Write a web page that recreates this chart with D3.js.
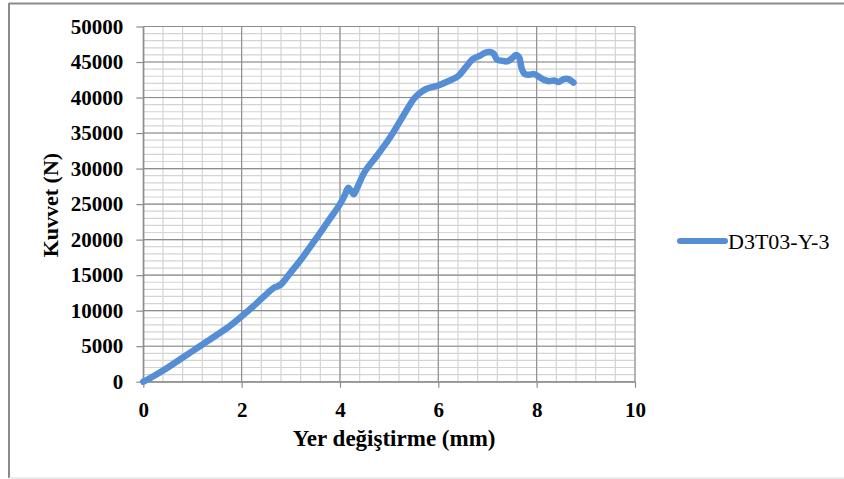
<!DOCTYPE html>
<html>
<head>
<meta charset="utf-8">
<script src="https://cdn.jsdelivr.net/npm/d3@7"></script>
<style>
  body { margin: 0; background: #fff; }
  svg { display: block; font-family: "Liberation Serif", "Times New Roman", serif; }
</style>
</head>
<body>
<svg></svg>
<script>
// force vs displacement, single specimen
var seriesName = 'D3T03-Y-3';
var displacement = [0, 0.25, 0.5, 0.75, 1.0, 1.25, 1.5, 1.75, 2.0, 2.25, 2.5, 2.65, 2.72, 2.8, 3.0,
  3.25, 3.5, 3.75, 4.0, 4.1, 4.17, 4.22, 4.28, 4.35, 4.5, 4.75, 5.0, 5.25, 5.5, 5.6, 5.75,
  6.0, 6.2, 6.4, 6.55, 6.7, 6.85, 6.95, 7.05, 7.12, 7.2, 7.28, 7.4, 7.5, 7.58, 7.64, 7.7,
  7.76, 7.85, 7.95, 8.05, 8.15, 8.25, 8.35, 8.45, 8.55, 8.65, 8.75];
var force = [0, 950, 2000, 3150, 4300, 5450, 6600, 7800, 9200, 10700, 12300, 13200, 13400, 13700, 15400,
  17600, 20000, 22500, 25000, 26300, 27300, 26900, 26400, 27300, 29500, 31800, 34200, 37000, 39800, 40500, 41200,
  41700, 42300, 43000, 44200, 45400, 45900, 46300, 46400, 46200, 45300, 45200, 45100, 45500, 46000, 45700, 44000,
  43300, 43200, 43300, 42900, 42500, 42300, 42400, 42200, 42600, 42600, 42100];
var xTicks = [0, 2, 4, 6, 8, 10];
var yTicks = [0, 5000, 10000, 15000, 20000, 25000, 30000, 35000, 40000, 45000, 50000];
var xTitle = 'Yer değiştirme (mm)';
var yTitle = 'Kuvvet (N)';

var width = 844, height = 479;
var svg = d3.select('svg').attr('width', width).attr('height', height);

// frame of the pasted chart
svg.append('line').attr('x1', 9).attr('x2', width).attr('y1', 3.5).attr('y2', 3.5)
  .attr('stroke', '#8a8a8a').attr('stroke-width', 2);
svg.append('line').attr('x1', 9).attr('x2', 9).attr('y1', 3).attr('y2', 478)
  .attr('stroke', '#8a8a8a').attr('stroke-width', 2);
svg.append('line').attr('x1', 9).attr('x2', width).attr('y1', 478).attr('y2', 478)
  .attr('stroke', '#e6e6e6').attr('stroke-width', 1.5);

var plot = { left: 143.3, right: 635, top: 26.5, bottom: 381.7 };
var x = d3.scaleLinear().domain([0, 10]).range([plot.left, plot.right]);
var y = d3.scaleLinear().domain([0, 50000]).range([plot.bottom, plot.top]);

var xMinor = d3.range(0, 26).map(i => i * 0.4);
var yMinor = d3.range(0, 51).map(i => i * 1000);

var grid = svg.append('g');
grid.selectAll('.vminor').data(xMinor).enter().append('line')
  .attr('x1', d => x(d)).attr('x2', d => x(d))
  .attr('y1', plot.top).attr('y2', plot.bottom)
  .attr('stroke', '#d4d4d4').attr('stroke-width', 1.2);
grid.selectAll('.hminor').data(yMinor).enter().append('line')
  .attr('x1', plot.left).attr('x2', plot.right)
  .attr('y1', d => y(d)).attr('y2', d => y(d))
  .attr('stroke', '#d4d4d4').attr('stroke-width', 1.2);
grid.selectAll('.vmajor').data(xTicks).enter().append('line')
  .attr('x1', d => x(d)).attr('x2', d => x(d))
  .attr('y1', plot.top).attr('y2', plot.bottom)
  .attr('stroke', '#8c8c8c').attr('stroke-width', 1.1);
grid.selectAll('.hmajor').data(yTicks).enter().append('line')
  .attr('x1', plot.left).attr('x2', plot.right)
  .attr('y1', d => y(d)).attr('y2', d => y(d))
  .attr('stroke', '#8c8c8c').attr('stroke-width', 1.1);

var yAxis = svg.append('g')
  .attr('transform', `translate(${plot.left},0)`)
  .call(d3.axisLeft(y).tickValues(yTicks).tickSize(7).tickSizeOuter(0).tickPadding(13).tickFormat(d3.format('d')));
var xAxis = svg.append('g')
  .attr('transform', `translate(0,${plot.bottom})`)
  .call(d3.axisBottom(x).tickValues(xTicks).tickSize(6).tickSizeOuter(0).tickPadding(14).tickFormat(d3.format('d')));

[yAxis, xAxis].forEach(function(a) {
  a.select('.domain').attr('stroke', '#8c8c8c').attr('stroke-width', 1.2);
  a.selectAll('.tick line').attr('stroke', '#8c8c8c').attr('stroke-width', 1.2);
  a.selectAll('.tick text')
    .attr('fill', '#000')
    .style('font-family', '"Liberation Serif", "Times New Roman", serif')
    .style('font-size', '21px')
    .style('font-weight', 'bold');
});

var line = d3.line()
  .x((d, i) => x(displacement[i]))
  .y(d => y(d))
  .curve(d3.curveCatmullRom.alpha(0.5));

svg.append('path')
  .datum(force)
  .attr('d', line)
  .attr('fill', 'none')
  .attr('stroke', '#558ed5')
  .attr('stroke-width', 6.5)
  .attr('stroke-linejoin', 'round')
  .attr('stroke-linecap', 'round');

svg.append('text')
  .attr('x', (plot.left + plot.right) / 2 + 5)
  .attr('y', 446)
  .attr('text-anchor', 'middle')
  .style('font-size', '23px')
  .style('font-weight', 'bold')
  .text(xTitle);

svg.append('text')
  .attr('transform', `translate(58,${(plot.top + plot.bottom) / 2 + 1}) rotate(-90)`)
  .attr('text-anchor', 'middle')
  .style('font-size', '22px')
  .style('font-weight', 'bold')
  .text(yTitle);

// legend
var legend = svg.append('g').attr('transform', 'translate(680,241)');
legend.append('line')
  .attr('x1', 0).attr('x2', 45)
  .attr('stroke', '#558ed5').attr('stroke-width', 6).attr('stroke-linecap', 'round');
legend.append('text')
  .attr('x', 48).attr('y', 8)
  .style('font-size', '22px')
  .text(seriesName);
</script>
</body>
</html>
